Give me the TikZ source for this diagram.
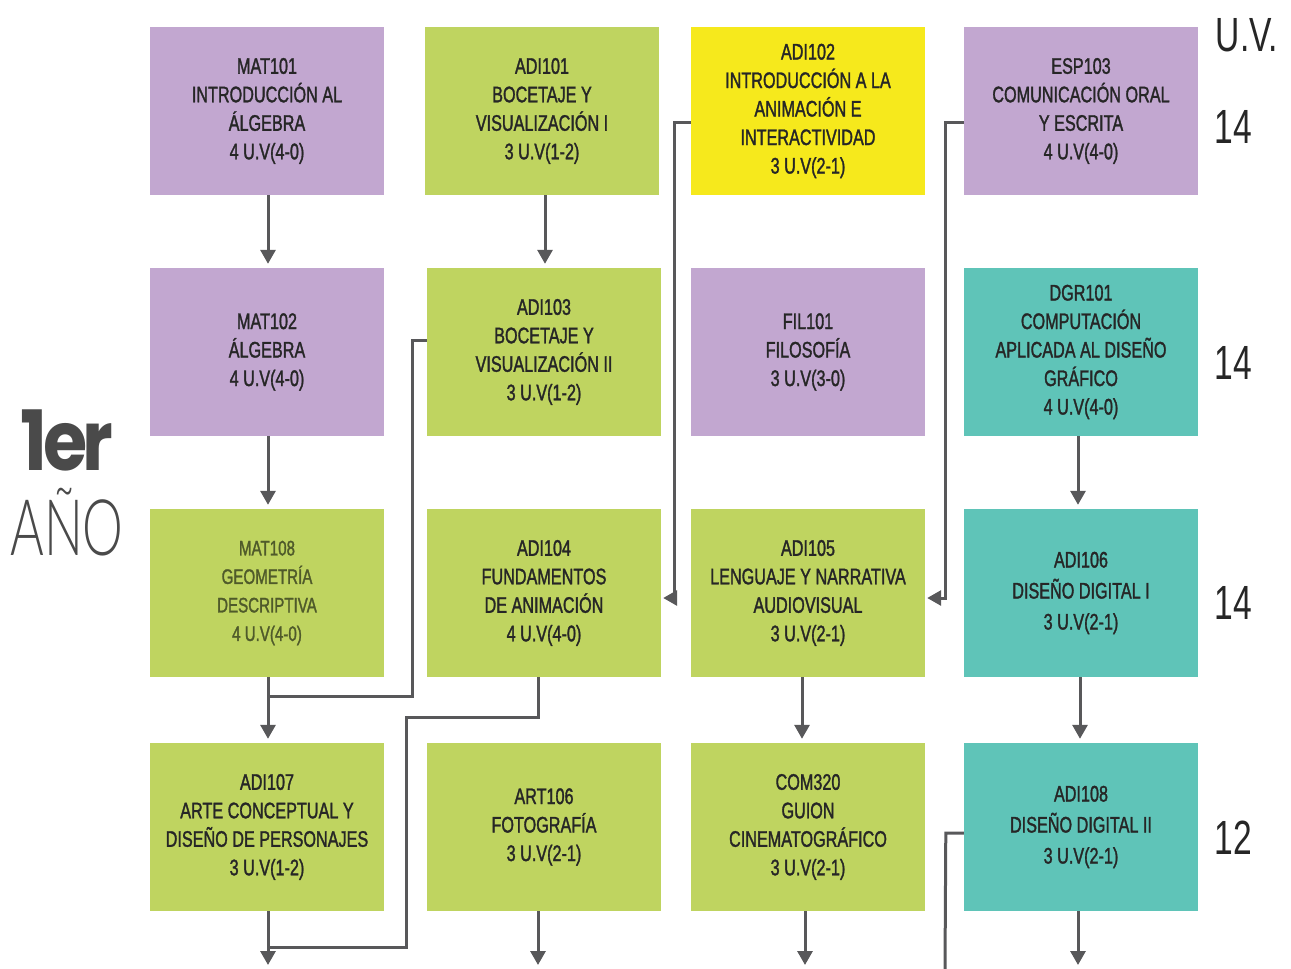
\documentclass[tikz,border=0pt]{standalone}
\usepackage{fontspec}
\setmainfont{Liberation Sans}[FakeStretch=0.72,FakeBold=1.4]
\newfontfamily\numfont{Liberation Sans}[FakeStretch=0.7]
\newfontfamily\yearbold{Poppins}[LetterSpace=-6]
\newfontfamily\yearthin{Lato Light}
\usetikzlibrary{arrows.meta,calc}
\definecolor{cpur}{HTML}{C2A7D0}
\definecolor{cgrn}{HTML}{BFD460}
\definecolor{cyel}{HTML}{F6E91C}
\definecolor{cteal}{HTML}{5FC4B8}
\definecolor{txt}{HTML}{262626}
\definecolor{txtl}{HTML}{4F5A2A}
\definecolor{lin}{HTML}{58585A}
\definecolor{yeartxt}{HTML}{4A4A4A}
\begin{document}
\begin{tikzpicture}[x=1pt,y=-1pt,
  box/.style={minimum width=234pt, minimum height=168pt, inner sep=0pt, align=center,
    font=\fontsize{22.5}{28.5}\selectfont, text=txt},
  pur/.style={box, fill=cpur},
  grn/.style={box, fill=cgrn},
  yel/.style={box, fill=cyel},
  tea/.style={box, fill=cteal},
  ln/.style={draw=lin, line width=3pt},
  arr/.style={ln, -{Triangle[width=15pt,length=14pt]}, shorten >=4pt},
  uvlab/.style={font=\numfont\fontsize{48}{48}\selectfont, text=black!85}
]
\useasboundingbox (0,0) rectangle (1291,969);

% Row 1
\node[pur] (mat101) at (267,111) {MAT101\\INTRODUCCIÓN AL\\ÁLGEBRA\\4 U.V(4-0)};
\node[grn] (adi101) at (542,111) {ADI101\\BOCETAJE Y\\VISUALIZACIÓN I\\3 U.V(1-2)};
\node[yel] (adi102) at (808,111) {ADI102\\INTRODUCCIÓN A LA\\ANIMACIÓN E\\INTERACTIVIDAD\\3 U.V(2-1)};
\node[pur] (esp103) at (1081,111) {ESP103\\COMUNICACIÓN ORAL\\Y ESCRITA\\4 U.V(4-0)};
% Row 2
\node[pur] (mat102) at (267,352) {MAT102\\ÁLGEBRA\\4 U.V(4-0)};
\node[grn] (adi103) at (544,352) {ADI103\\BOCETAJE Y\\VISUALIZACIÓN II\\3 U.V(1-2)};
\node[pur] (fil101) at (808,352) {FIL101\\FILOSOFÍA\\3 U.V(3-0)};
\node[tea] (dgr101) at (1081,352) {DGR101\\COMPUTACIÓN\\APLICADA AL DISEÑO\\GRÁFICO\\4 U.V(4-0)};
% Row 3
\node[grn, text=txtl, font=\fontsize{21}{28.5}\selectfont] (mat108) at (267,593) {MAT108\\GEOMETRÍA\\DESCRIPTIVA\\4 U.V(4-0)};
\node[grn] (adi104) at (544,593) {ADI104\\FUNDAMENTOS\\DE ANIMACIÓN\\4 U.V(4-0)};
\node[grn] (adi105) at (808,593) {ADI105\\LENGUAJE Y NARRATIVA\\AUDIOVISUAL\\3 U.V(2-1)};
\node[tea, font=\fontsize{22.5}{31}\selectfont] (adi106) at (1081,593) {ADI106\\DISEÑO DIGITAL I\\3 U.V(2-1)};
% Row 4
\node[grn] (adi107) at (267,827) {ADI107\\ARTE CONCEPTUAL Y\\DISEÑO DE PERSONAJES\\3 U.V(1-2)};
\node[grn] (art106) at (544,827) {ART106\\FOTOGRAFÍA\\3 U.V(2-1)};
\node[grn] (com320) at (808,827) {COM320\\GUION\\CINEMATOGRÁFICO\\3 U.V(2-1)};
\node[tea, font=\fontsize{22.5}{31}\selectfont] (adi108) at (1081,827) {ADI108\\DISEÑO DIGITAL II\\3 U.V(2-1)};

% Side labels
\node[uvlab] (uv) at (1247,35) {U.V.};
\node[uvlab] (n1) at (1233,127) {14};
\node[uvlab] (n2) at (1233,363) {14};
\node[uvlab] (n3) at (1233,603) {14};
\node[uvlab] (n4) at (1233,838) {12};

\node[text=yeartxt, inner sep=0pt] (yr) at (67,440) {\scalebox{1.12}[1.3]{\yearbold\bfseries\fontsize{64}{64}\selectfont 1er}};
\node[text=yeartxt, inner sep=0pt] (ano) at (67,522) {\scalebox{0.66}[1]{\yearthin\fontsize{78}{78}\selectfont AÑO}};

% Vertical arrows
\draw[arr] ([xshift=1pt]mat101.south) -- ([xshift=1pt]mat102.north);
\draw[arr] ([xshift=1pt]mat102.south) -- ([xshift=1pt]mat108.north);
\draw[arr] ([xshift=1pt]mat108.south) -- ([xshift=1pt]adi107.north);
\draw[arr] ([xshift=3pt]adi101.south) -- ([xshift=1pt]adi103.north);
\draw[arr] ([xshift=-3pt]dgr101.south) -- ([xshift=-3pt]adi106.north);
\draw[arr] ([xshift=-1pt]adi106.south) -- ([xshift=-1pt]adi108.north);
\draw[arr] ([xshift=-6pt]adi105.south) -- ([xshift=-6pt]com320.north);

% Elbow connectors
\draw[arr, shorten >=2pt] ($(adi102.west)+(0,11)$) -- ++(-16,0) |- ($(adi104.east)+(0,5)$);
\draw[arr, shorten >=2pt] ($(esp103.west)+(0,11)$) -- ++(-18,0) |- ($(adi105.east)+(0,5)$);

\coordinate (j1) at ($(mat108.south)+(1,19)$);
\draw[ln] ($(adi103.west)+(0,-12)$) -- ++(-14,0) |- (j1);

\coordinate (j2) at ($(adi107.south)+(1,36)$);
\draw[ln] ([xshift=-6pt]adi104.south) -- ++(0,40) -- ++(-132,0) |- (j2);

% Bottom outgoing arrows
\coordinate (e1) at (268,969);
\coordinate (e2) at (538,969);
\coordinate (e3) at (805,969);
\coordinate (e4) at (1078,969);
\coordinate (e5) at (945,969);
\draw[arr] (adi107.south -| e1) -- (e1);
\draw[arr] (art106.south -| e2) -- (e2);
\draw[arr] (com320.south -| e3) -- (e3);
\draw[arr] (adi108.south -| e4) -- (e4);
\draw[ln] ($(adi108.west)+(0,6)$) -- ++(-18,0) -- (e5);
\end{tikzpicture}
\end{document}
